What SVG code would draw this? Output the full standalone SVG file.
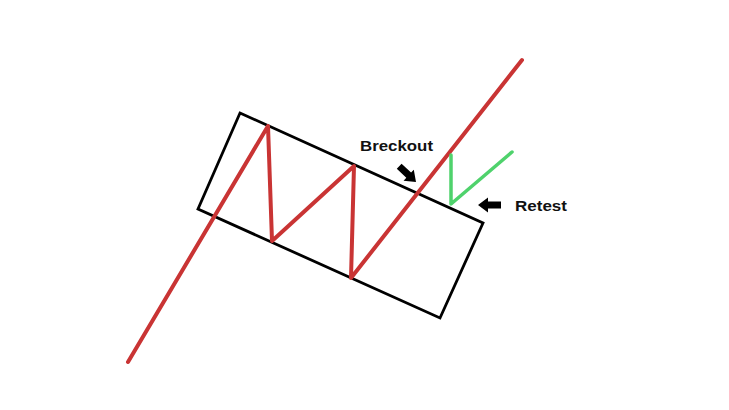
<svg xmlns="http://www.w3.org/2000/svg" width="729" height="410" viewBox="0 0 729 410">
<style>
.box{fill:none;stroke:#000;stroke-width:2.8;stroke-linejoin:miter}
.red{fill:none;stroke:#c93434;stroke-width:4;stroke-linecap:round;stroke-linejoin:round}
.green{fill:none;stroke:#4fd26c;stroke-width:3.5;stroke-linecap:round;stroke-linejoin:round}
.lbl{font-family:"Liberation Sans",Arial,sans-serif;font-weight:bold;font-size:15px;fill:#111}
.arr{fill:#000}
</style>
<defs>
<polygon id="fatArrow" points="0,0 -10,-7.5 -10,-3.5 -23,-3.5 -23,3.5 -10,3.5 -10,7.5"/>
</defs>
<rect width="729" height="410" fill="#fff"/>
<g id="channel">
<polygon class="box" points="240,113 483,223 440,318 198,209"/>
</g>
<g id="connectors">
<polyline id="price" class="red" points="128,362 268,126 272,241 354,166 351,278 522,60"/>
<polyline id="retest-line" class="green" points="451,155 451,204 512,152"/>
</g>
<g id="breckout">
<use href="#fatArrow" class="arr" transform="translate(416,182) rotate(43)"/>
<text class="lbl" x="360" y="151" textLength="73" lengthAdjust="spacingAndGlyphs">Breckout</text>
</g>
<g id="retest">
<use href="#fatArrow" class="arr" transform="translate(478,205) rotate(180)"/>
<text class="lbl" x="515" y="211" textLength="52" lengthAdjust="spacingAndGlyphs">Retest</text>
</g>
</svg>
